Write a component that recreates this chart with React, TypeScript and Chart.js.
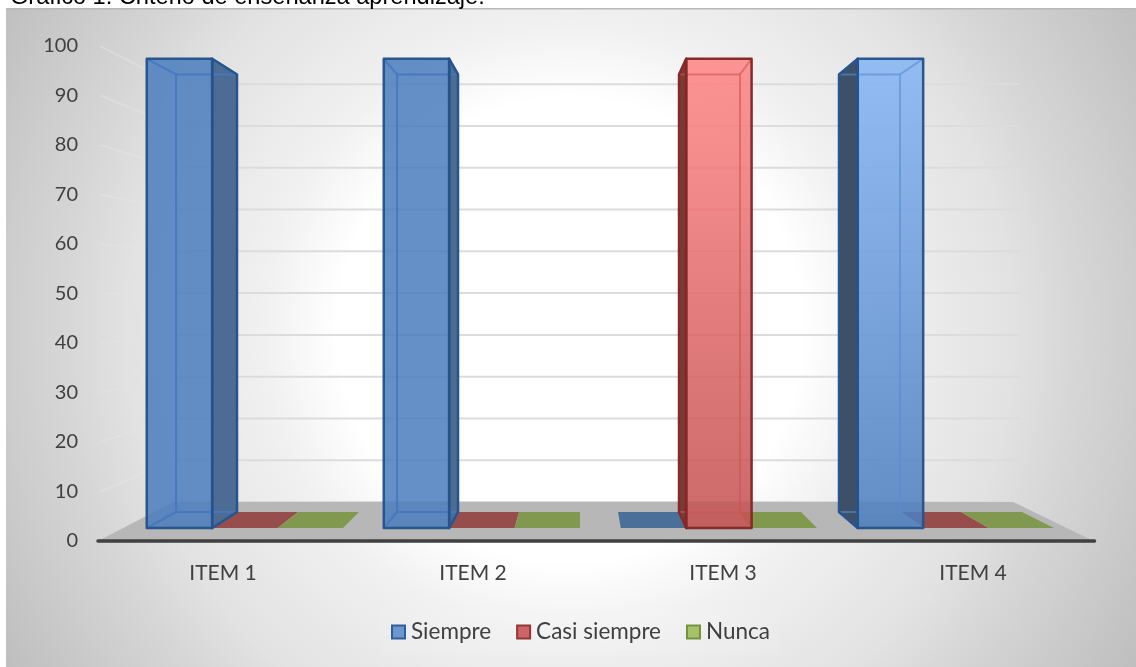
import React, { useEffect, useRef } from "react";
import { Chart, registerables } from "chart.js";

Chart.register(...registerables);

const TITLE = "Gráfico 1: Criterio de enseñanza aprendizaje:";
const categories = ["ITEM 1", "ITEM 2", "ITEM 3", "ITEM 4"];
const siempre = [100, 100, 0, 100];
const casiSiempre = [0, 0, 100, 0];
const nunca = [0, 0, 0, 0];
const seriesNames = ["Siempre", "Casi siempre", "Nunca"];

const VX = 580;
const VY = 291;
const S_BACK_WALL = 0.844;
const S_BAR_FRONT = 0.948;
const S_BAR_BACK = 0.884;
const UI_FONT = "Lato";

type Style = {
  fill: string; lit: string; side: string; litSide: string; edge: string; inner: string; litInner: string;
  flat: string; swatch: string;
};
const STYLES: Style[] = [
  { fill: "rgba(75,125,190,0.86)", lit: "rgba(135,182,245,0.88)", side: "rgb(76,108,148)", litSide: "rgb(61,80,104)",
    edge: "rgba(38,84,140,0.98)", inner: "rgba(70,120,190,0.9)", litInner: "rgba(90,140,205,0.6)",
    flat: "rgb(74,112,154)", swatch: "#6B97CE" },
  { fill: "rgba(195,80,80,0.86)", lit: "rgba(255,135,135,0.88)", side: "rgb(130,70,70)", litSide: "rgb(122,58,58)",
    edge: "rgba(132,40,40,0.98)", inner: "rgba(205,85,85,0.9)", litInner: "rgba(205,85,85,0.6)",
    flat: "rgb(152,77,77)", swatch: "#CC6666" },
  { fill: "rgba(140,175,85,0.86)", lit: "rgba(170,205,110,0.88)", side: "rgb(110,130,70)", litSide: "rgb(100,120,60)",
    edge: "rgba(115,145,60,0.95)", inner: "rgba(130,160,70,0.9)", litInner: "rgba(130,160,70,0.6)",
    flat: "rgb(128,153,78)", swatch: "#A5C26B" },
];
const LEGEND_EDGES = ["#2F5F9A", "#943634", "#76923C"];
const LIT_CATEGORIES = [2, 3];

function project(x: number, y: number, s: number): [number, number] {
  return [VX + (x - VX) * s, VY + (y - VY) * s];
}

function poly(ctx: CanvasRenderingContext2D, pts: [number, number][]) {
  ctx.beginPath();
  pts.forEach((p, i) => (i ? ctx.lineTo(p[0], p[1]) : ctx.moveTo(p[0], p[1])));
  ctx.closePath();
}

function line(ctx: CanvasRenderingContext2D, a: [number, number], b: [number, number]) {
  ctx.beginPath();
  ctx.moveTo(a[0], a[1]);
  ctx.lineTo(b[0], b[1]);
  ctx.stroke();
}

const scene3d = {
  id: "scene3d",
  beforeDraw(chart: any) {
    const ctx: CanvasRenderingContext2D = chart.ctx;
    const g = ctx.createRadialGradient(570, 330, 0, 570, 330, 660);
    g.addColorStop(0, "#ffffff");
    g.addColorStop(0.35, "#ffffff");
    g.addColorStop(0.46, "#f1f1f1");
    g.addColorStop(0.67, "#e2e2e2");
    g.addColorStop(0.76, "#d7d7d7");
    g.addColorStop(1, "#bebebe");
    ctx.save();
    ctx.fillStyle = "#ffffff";
    ctx.fillRect(0, 0, chart.width, chart.height);
    ctx.fillStyle = g;
    ctx.fillRect(6, 8, chart.width - 6, chart.height - 8);
    ctx.fillStyle = "#b8b8b8";
    ctx.fillRect(6, 8, chart.width - 6, 1.5);
    ctx.fillStyle = "rgba(255,255,255,0.08)";
    ctx.fillRect(380, 611, 400, 44);
    ctx.restore();
  },
  beforeDatasetsDraw(chart: any) {
    const ctx: CanvasRenderingContext2D = chart.ctx;
    const xs = chart.scales.x;
    const ys = chart.scales.y;
    const zero = ys.getPixelForValue(0);
    const floorL = xs.left - 3.5;
    const floorR = xs.right - 8;
    ctx.save();

    // walls
    ctx.lineWidth = 2;
    ys.ticks.forEach((t: any) => {
      const y = ys.getPixelForValue(t.value);
      const backL = project(floorL + 2, y, S_BACK_WALL);
      const backR = project(floorR + 8, y, S_BACK_WALL);
      ctx.strokeStyle = "#dcdcdc";
      line(ctx, backL, backR);
      ctx.strokeStyle = "rgba(228,228,228,0.45)";
      line(ctx, [floorL + 2, y], backL);
    });

    // floor
    ctx.fillStyle = "#b7b7b7";
    poly(ctx, [
      [floorL, zero],
      [floorR, zero],
      project(floorR, zero, S_BACK_WALL),
      project(floorL, zero, S_BACK_WALL),
    ]);
    ctx.fill();

    type Bar = { ds: number; i: number; x0: number; x1: number; top: number; base: number; value: number };
    const bars: Bar[] = [];
    chart.data.datasets.forEach((d: any, ds: number) => {
      chart.getDatasetMeta(ds).data.forEach((el: any, i: number) => {
        bars.push({ ds, i, x0: el.x - el.width / 2, x1: el.x + el.width / 2, top: el.y, base: el.base, value: d.data[i] });
      });
    });

    // empty bars lie flat on the floor
    bars.filter((b) => b.value === 0).forEach((b) => {
      ctx.fillStyle = STYLES[b.ds].flat;
      poly(ctx, [
        project(b.x0, b.base, S_BAR_FRONT),
        project(b.x1, b.base, S_BAR_FRONT),
        project(b.x1, b.base, S_BAR_BACK),
        project(b.x0, b.base, S_BAR_BACK),
      ]);
      ctx.fill();
    });

    // standing bars
    bars.filter((b) => b.value !== 0).forEach((b) => {
      const st = STYLES[b.ds];
      const lit = LIT_CATEGORIES.includes(b.i);
      const fTL = project(b.x0, b.top, S_BAR_FRONT);
      const fTR = project(b.x1, b.top, S_BAR_FRONT);
      const fBL = project(b.x0, b.base, S_BAR_FRONT);
      const fBR = project(b.x1, b.base, S_BAR_FRONT);
      const bTL = project(b.x0, b.top, S_BAR_BACK);
      const bTR = project(b.x1, b.top, S_BAR_BACK);
      const bBL = project(b.x0, b.base, S_BAR_BACK);
      const bBR = project(b.x1, b.base, S_BAR_BACK);

      ctx.fillStyle = lit ? st.litSide : st.side;
      if (b.x1 < VX) {
        poly(ctx, [fTR, bTR, bBR, fBR]);
        ctx.fill();
      } else if (b.x0 > VX) {
        poly(ctx, [fTL, bTL, bBL, fBL]);
        ctx.fill();
      }

      if (lit) {
        const g = ctx.createLinearGradient(0, fTL[1], 0, fBL[1]);
        g.addColorStop(0, st.lit);
        g.addColorStop(1, st.fill);
        ctx.fillStyle = g;
      } else {
        ctx.fillStyle = st.fill;
      }
      poly(ctx, [fTL, fTR, fBR, fBL]);
      ctx.fill();

      ctx.lineJoin = "round";
      ctx.strokeStyle = lit ? st.litInner : st.inner;
      ctx.lineWidth = 2;
      poly(ctx, [bTL, bTR, bBR, bBL]);
      ctx.stroke();
      line(ctx, fTL, bTL);
      line(ctx, fTR, bTR);
      line(ctx, fBL, bBL);
      line(ctx, fBR, bBR);

      ctx.strokeStyle = st.edge;
      ctx.lineWidth = 2.5;
      poly(ctx, [fTL, fTR, fBR, fBL]);
      ctx.stroke();
      if (b.x1 < VX) {
        poly(ctx, [fTR, bTR, bBR, fBR]);
        ctx.stroke();
      } else if (b.x0 > VX) {
        poly(ctx, [fTL, bTL, bBL, fBL]);
        ctx.stroke();
      }
    });

    // axis line
    ctx.strokeStyle = "#404040";
    ctx.lineWidth = 3.5;
    ctx.lineCap = "round";
    line(ctx, [floorL, zero], [floorR + 1, zero]);
    ctx.restore();
    return false;
  },
  afterDraw(chart: any) {
    const ctx: CanvasRenderingContext2D = chart.ctx;
    const y = 632;
    const box = 15;
    ctx.save();
    ctx.font = `22.5px ${UI_FONT}`;
    ctx.textBaseline = "middle";
    const textGap = 5;
    const itemGap = 25;
    const widths = chart.data.datasets.map((d: any) => box + textGap + ctx.measureText(d.label).width);
    const total = widths.reduce((a: number, b: number) => a + b, 0) + itemGap * (widths.length - 1);
    let x = 580.5 - total / 2;
    chart.data.datasets.forEach((d: any, i: number) => {
      ctx.fillStyle = d.backgroundColor;
      ctx.strokeStyle = d.borderColor;
      ctx.lineWidth = 2;
      ctx.fillRect(x + 1, y - box / 2 + 1, box - 2, box - 2);
      ctx.strokeRect(x + 1, y - box / 2 + 1, box - 2, box - 2);
      ctx.fillStyle = "#404040";
      ctx.fillText(d.label, x + box + textGap, y);
      x += widths[i] + itemGap;
    });
    ctx.restore();
  },
};

export default function App() {
  const ref = useRef<HTMLCanvasElement>(null);
  useEffect(() => {
    document.body.style.margin = "0";
    const chart = new Chart(ref.current as HTMLCanvasElement, {
      type: "bar",
      data: {
        labels: categories,
        datasets: [siempre, casiSiempre, nunca].map((data, i) => ({
          label: seriesNames[i],
          data,
          backgroundColor: STYLES[i].swatch,
          borderColor: LEGEND_EDGES[i],
        })),
      },
      plugins: [scene3d],
      options: {
        animation: false,
        responsive: false,
        layout: { autoPadding: false, padding: { left: 10, right: 34.5, top: 0, bottom: 66 } },
        datasets: { bar: { categoryPercentage: 0.828, barPercentage: 1 } },
        plugins: {
          legend: { display: false },
          tooltip: { enabled: false },
          title: {
            display: true,
            text: TITLE,
            align: "start",
            color: "#000000",
            font: { family: "'Liberation Sans'", size: 23.6, weight: "normal", lineHeight: 1.2 },
            padding: { top: -17, bottom: 34.7 },
          },
        },
        scales: {
          x: {
            afterFit: (s: any) => { s.height = 60; },
            grid: { display: false, drawTicks: false },
            border: { display: false },
            ticks: {
              color: "#404040",
              padding: 20,
              labelOffset: -3.5,
              maxRotation: 0,
              font: { family: UI_FONT, size: 21 },
            },
          },
          y: {
            min: 0,
            max: 100,
            afterFit: (s: any) => { s.width = 91.5; },
            grid: { display: false, drawTicks: false },
            border: { display: false },
            ticks: {
              stepSize: 10,
              color: "#404040",
              padding: 23.5,
              font: { family: UI_FONT, size: 20 },
            },
          },
        },
      } as any,
    });
    return () => chart.destroy();
  }, []);
  return (
    <div style={{ position: "absolute", left: 0, top: 0, width: 1136, height: 667, overflow: "hidden" }}>
      <canvas ref={ref} width={1136} height={667} style={{ display: "block" }} />
    </div>
  );
}
